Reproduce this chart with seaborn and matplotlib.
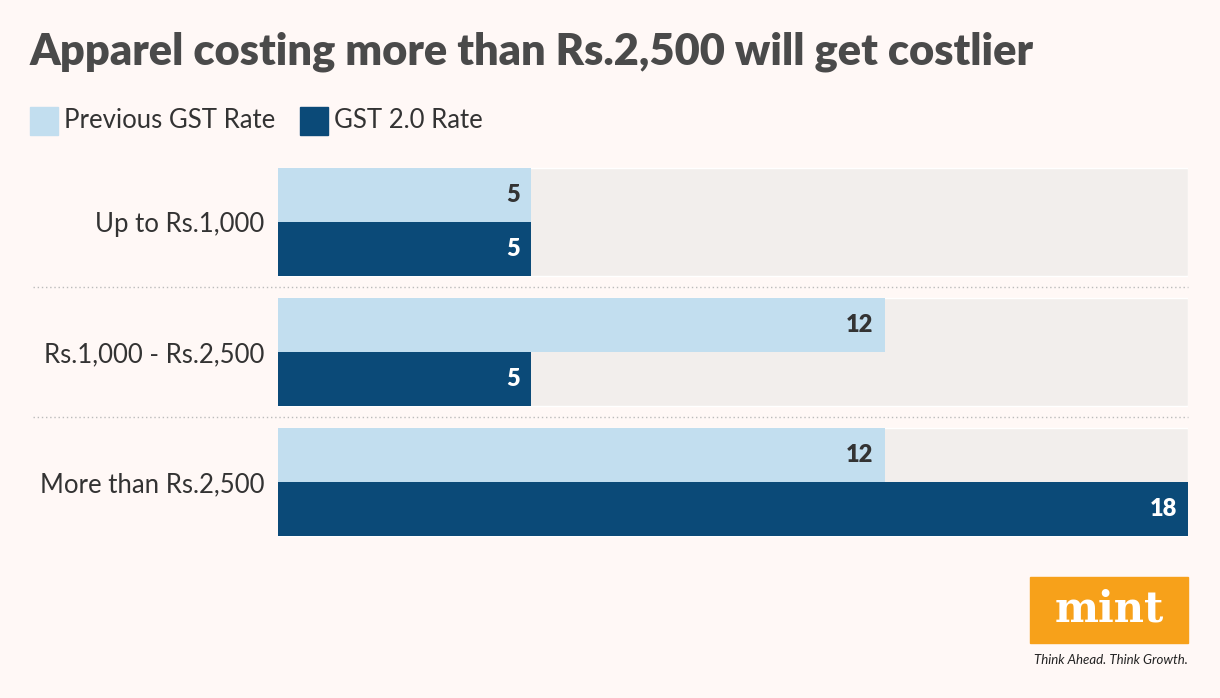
import pandas as pd
import matplotlib.pyplot as plt
import seaborn as sns
from matplotlib.patches import Rectangle

categories = ['Up to Rs.1,000', 'Rs.1,000 - Rs.2,500', 'More than Rs.2,500']
previous_rate = [5, 12, 12]
gst2_rate = [5, 5, 18]
series = ['Previous GST Rate', 'GST 2.0 Rate']

df = pd.DataFrame({'Category': categories * 2,
                   'Series': [series[0]] * 3 + [series[1]] * 3,
                   'Rate': previous_rate + gst2_rate})
xmax = max(previous_rate + gst2_rate)

bg = '#FFF8F6'
light = '#C2DEEF'
dark = '#0B4A78'
W, H = 1220, 698

sns.set_style('white')
plt.rcParams['font.family'] = ['Lato', 'DejaVu Sans']
fig = plt.figure(figsize=(12.2, 6.98), dpi=100, facecolor=bg)
ax = fig.add_axes([278 / W, 1 - 547 / H, 910 / W, 390 / H])
ax.set_facecolor(bg)

# grey track behind each group
ax.barh(range(len(categories)), [xmax] * len(categories), height=0.83, color='#F2EEEC', zorder=0)
sns.barplot(data=df, y='Category', x='Rate', hue='Series', palette=[light, dark],
            width=0.83, orient='h', legend=False, ax=ax, zorder=2,
            saturation=1, linewidth=0)
for cont, col in zip(ax.containers[1:], ['#333333', 'white']):
    labels = ax.bar_label(cont, padding=-8, color=col, fontsize=17, fontweight='heavy')
    for t in labels:
        t.set_horizontalalignment('right')

ax.set_xlim(0, xmax)
ax.set_ylim(2.5, -0.5)
ax.set_xlabel('')
ax.set_ylabel('')
ax.set_xticks([])
ax.tick_params(axis='y', length=0, labelsize=18.5, colors='#333333', pad=10)
sns.despine(ax=ax, left=True, bottom=True)

for y in [287, 417]:
    fig.add_artist(plt.Line2D([33 / W, 1188 / W], [1 - y / H] * 2, color='#BBBBBB',
                              linestyle=(0, (1, 2)), linewidth=1))

fig.text(30 / W, 1 - 52 / H, 'Apparel costing more than Rs.2,500 will get costlier',
         fontsize=31.2, fontweight='heavy', color='#4A4A4A', va='center')
for x, name, col in zip([30, 300], series, [light, dark]):
    fig.add_artist(Rectangle((x / W, 1 - 135 / H), 28 / W, 28 / H, color=col))
    fig.text((x + 34) / W, 1 - 121 / H, name, fontsize=18.5, color='#333333', va='center')

# logo
fig.add_artist(Rectangle((1030 / W, 1 - 643 / H), 158 / W, 66 / H, color='#F7A11A'))
fig.text(1109 / W, 1 - 610 / H, 'mint', fontsize=30, fontweight='bold', color='white',
         family='DejaVu Serif', ha='center', va='center')
fig.text(1188 / W, 1 - 660 / H, 'Think Ahead. Think Growth.', fontsize=9.5, style='italic',
         color='#222222', ha='right', va='center')

fig.savefig('out.png', dpi=100, facecolor=bg)
